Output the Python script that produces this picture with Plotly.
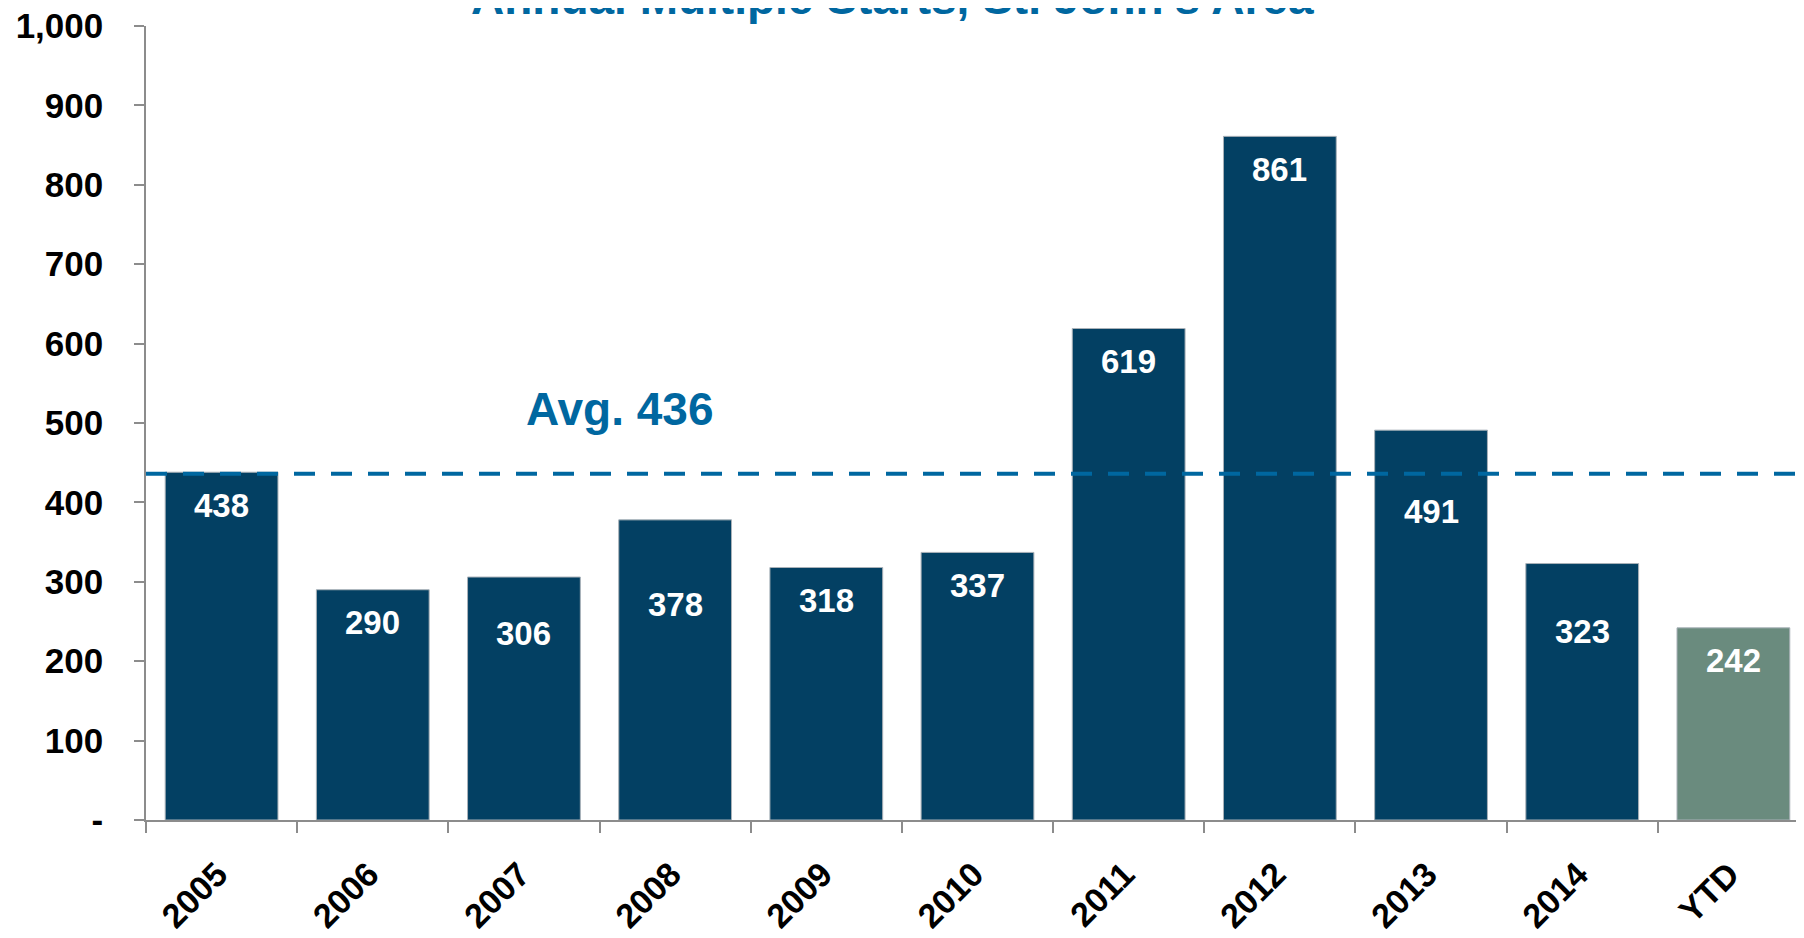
import plotly.graph_objects as go

categories = ["2005", "2006", "2007", "2008", "2009", "2010", "2011", "2012", "2013", "2014", "YTD"]
starts = [438, 290, 306, 378, 318, 337, 619, 861, 491, 323, 242]
average = 436
title_text = "Annual Multiple Starts, St. John's Area"
y_tickvals = [0, 100, 200, 300, 400, 500, 600, 700, 800, 900, 1000]
y_ticktext = ["-", "100", "200", "300", "400", "500", "600", "700", "800", "900", "1,000"]

# styling
bar_colors = ["#034063"] * 10 + ["#6a8b7e"]
label_shift = [-33, -33, -56, -85, -33, -33, -33, -33, -81, -68, -33]
blue = "#0067a0"
axis_grey = "#8c8c8c"
FONT = "Liberation Sans"

fig = go.Figure()
fig.add_trace(go.Bar(
    x=categories, y=starts,
    marker=dict(color=bar_colors, line=dict(color="#a9b1b8", width=1)),
    hoverinfo="x+y",
))

# average dashed line
fig.add_shape(type="line", xref="paper", yref="y", x0=0, x1=1, y0=average, y1=average,
              line=dict(color=blue, width=4, dash="21px,16px"))

# data labels (category positions by index)
for i, (v, s) in enumerate(zip(starts, label_shift)):
    fig.add_annotation(x=i, xref="x", y=v, yref="y", text=str(v), showarrow=False,
                       yanchor="middle", yshift=s,
                       font=dict(family=FONT, size=33, color="white", weight="bold"))

# average label
fig.add_annotation(x=2.632, y=518, xref="x", yref="y", text=f"Avg. {average}", showarrow=False,
                   yanchor="middle", font=dict(family=FONT, size=46, color=blue, weight="bold"))

# title (partially cut at top as in the reference)
fig.add_annotation(x=(892 - 146) / 1658, xref="paper", y=1, yref="paper", text=title_text,
                   showarrow=False, yanchor="bottom", yshift=0,
                   font=dict(family=FONT, size=46, color=blue, weight="bold"))

fig.update_layout(
    width=1796, height=930,
    margin=dict(l=138, r=0, t=18, b=118, autoexpand=False),
    paper_bgcolor="white", plot_bgcolor="white",
    bargap=0.254,
    showlegend=False,
    font=dict(family=FONT, color="black"),
    xaxis=dict(
        type="category", range=[-0.5, 10.467],
        showline=True, linecolor=axis_grey, linewidth=1.5,
        ticks="outside", tickson="boundaries", ticklen=11, tickcolor=axis_grey, tickwidth=1.5,
        tickangle=-45, tickfont=dict(family=FONT, size=34, color="black", weight="bold"),
        ticklabelstandoff=19, ticklabelshift=-4, ticklabeloverflow="allow",
        showgrid=False, zeroline=False, automargin=False,
    ),
    yaxis=dict(
        range=[0, 1000], tickvals=y_tickvals, ticktext=y_ticktext,
        showline=True, linecolor=axis_grey, linewidth=1.5,
        ticks="outside", ticklen=10, tickcolor=axis_grey, tickwidth=1.5,
        tickfont=dict(family=FONT, size=35, color="black", weight="bold"),
        ticklabelstandoff=24, ticklabeloverflow="allow",
        showgrid=False, zeroline=False, automargin=False,
    ),
)

fig.write_html("out.html")
